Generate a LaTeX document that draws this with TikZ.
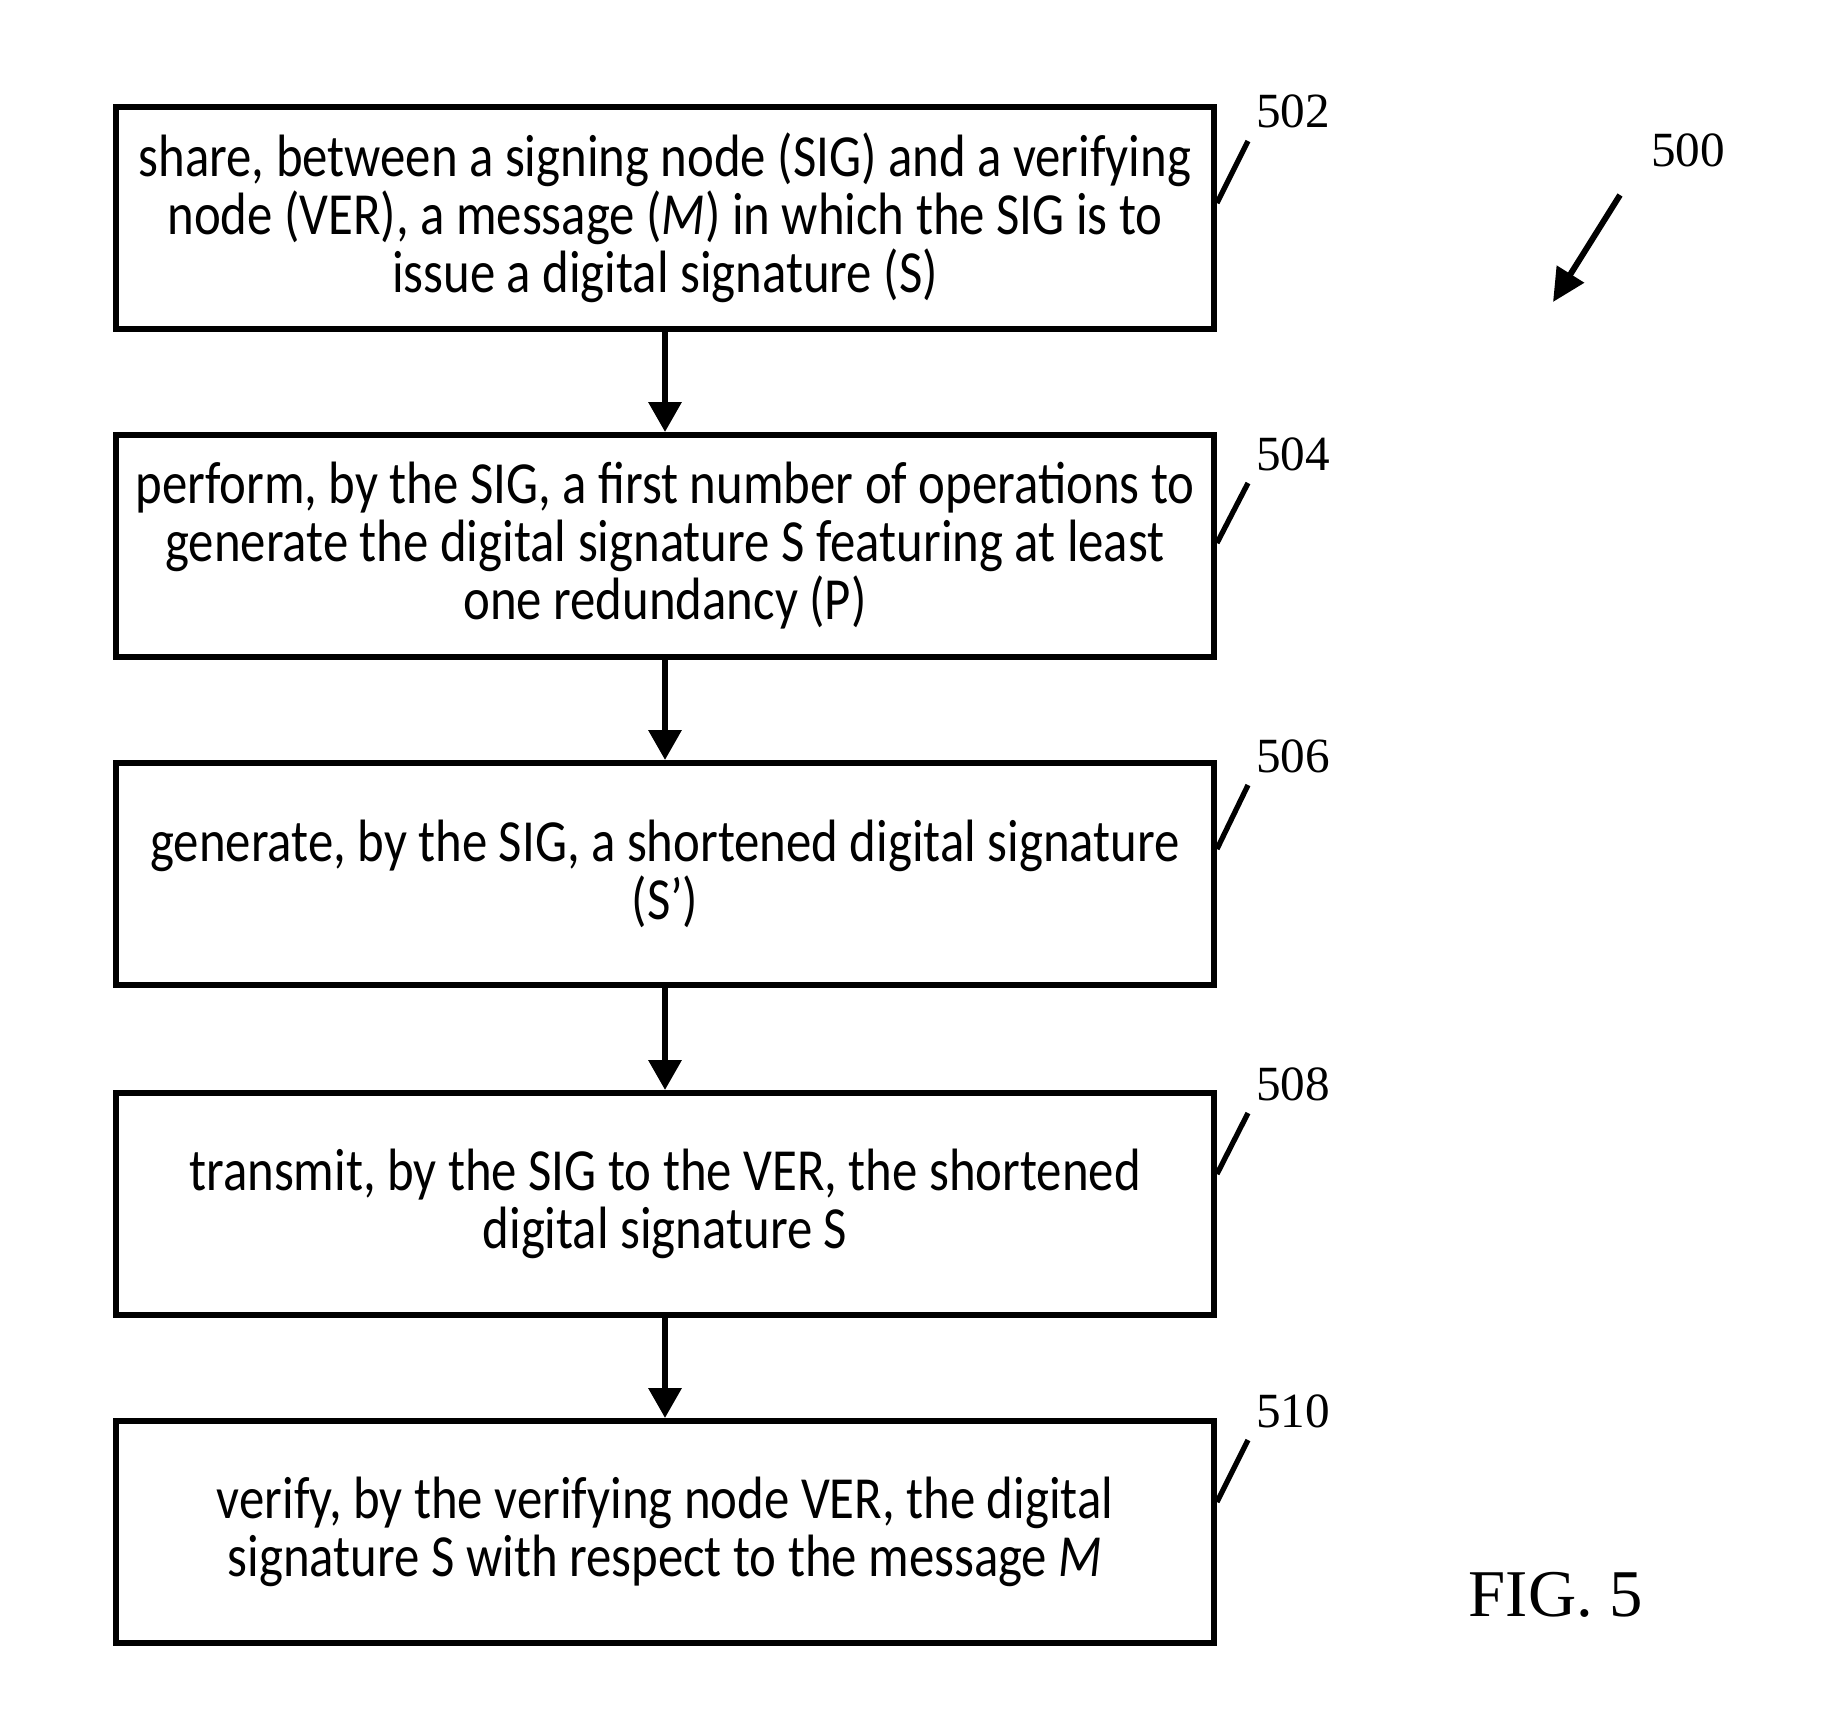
\documentclass[tikz,border=0pt]{standalone}
\usepackage{fontspec}
\setmainfont{Carlito}[FakeStretch=0.85]
\newfontfamily\labelfont{Liberation Serif}
\usetikzlibrary{arrows.meta}
\begin{document}
\begin{tikzpicture}[x=0.1mm,y=-0.1mm,
  stepbox/.style={draw, line width=1.7pt, minimum width=109.8mm, minimum height=22.2mm,
    inner sep=0pt, align=center,
    font={\fontsize{17pt}{16.5pt}\selectfont\lineskiplimit=-50pt}},
  flowarrow/.style={line width=1.8pt, -{Triangle[length=3mm, width=3.2mm]}},
  leader/.style={line width=1.5pt},
  reflabel/.style={inner sep=0pt, font={\labelfont\fontsize{14pt}{16pt}\selectfont}}]
\useasboundingbox (0,0) rectangle (1823,1735);

\node[stepbox] (b1) at (665,218) {share, between a signing node (SIG) and a verifying\\node (VER), a message (\textit{M}) in which the SIG is to\\issue a digital signature (S)};
\node[stepbox] (b2) at (665,546) {perform, by the SIG, a first number of operations to\\generate the digital signature S featuring at least\\one redundancy (P)};
\node[stepbox] (b3) at (665,874) {generate, by the SIG, a shortened digital signature\\(S’)};
\node[stepbox] (b4) at (665,1204) {transmit, by the SIG to the VER, the shortened\\digital signature S};
\node[stepbox] (b5) at (665,1532) {verify, by the verifying node VER, the digital\\signature S with respect to the message \textit{M}};

\draw[flowarrow] (b1.south) -- (b2.north);
\draw[flowarrow] (b2.south) -- (b3.north);
\draw[flowarrow] (b3.south) -- (b4.north);
\draw[flowarrow] (b4.south) -- (b5.north);

\node[reflabel] (n502) at (1293,111) {502};
\node[reflabel] (n504) at (1293,454) {504};
\node[reflabel] (n506) at (1293,756) {506};
\node[reflabel] (n508) at (1293,1084) {508};
\node[reflabel] (n510) at (1293,1411) {510};

\coordinate (l1) at (1248,141);
\coordinate (l2) at (1248,483);
\coordinate (l3) at (1248,785);
\coordinate (l4) at (1248,1113);
\coordinate (l5) at (1248,1440);
\draw[leader] ([yshift=1.5mm]b1.east) -- (l1);
\draw[leader] ([yshift=0.3mm]b2.east) -- (l2);
\draw[leader] ([yshift=2.5mm]b3.east) -- (l3);
\draw[leader] ([yshift=3mm]b4.east) -- (l4);
\draw[leader] ([yshift=3mm]b5.east) -- (l5);

\node[inner sep=0pt, font={\labelfont\fontsize{14pt}{16pt}\selectfont}] (n500) at (1688,150) {500};
\coordinate (a500s) at (1620,195);
\coordinate (a500e) at (1553,302);
\draw[line width=1.7pt, -{Triangle[length=3.3mm, width=3.1mm]}] (a500s) -- (a500e);

\node[inner sep=0pt, font={\labelfont\fontsize{19pt}{22pt}\selectfont}] (fig) at (1556,1595) {FIG. 5};
\end{tikzpicture}
\end{document}
